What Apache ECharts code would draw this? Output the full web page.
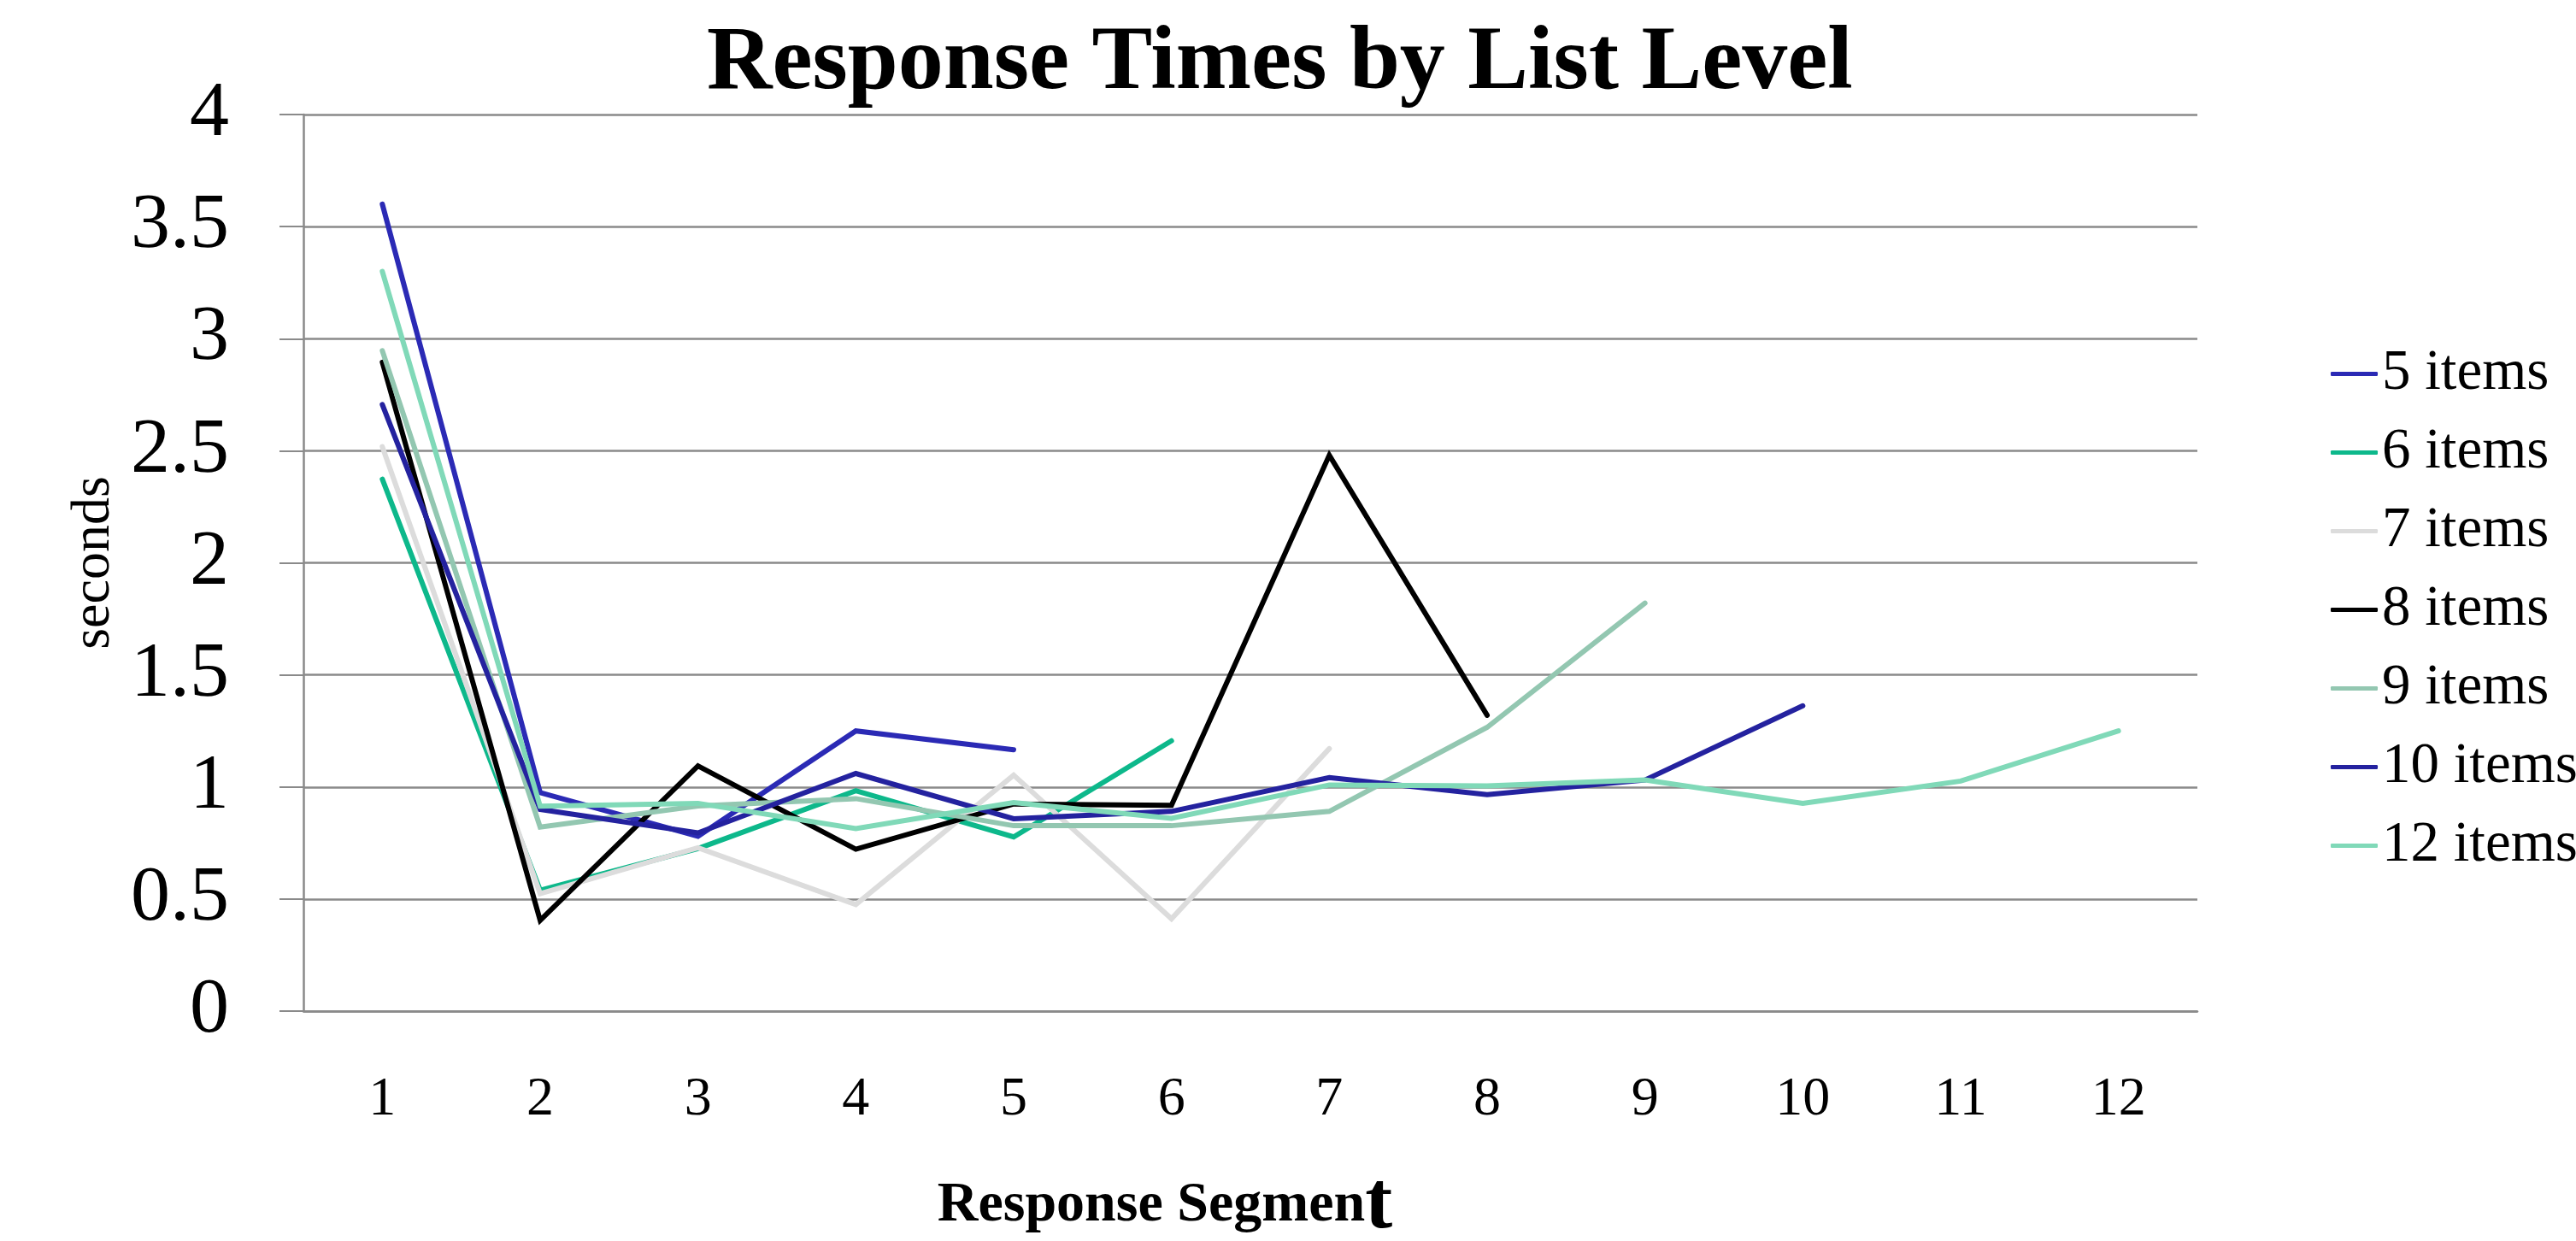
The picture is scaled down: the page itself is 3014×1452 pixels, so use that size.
<!DOCTYPE html>
<html>
<head>
<meta charset="utf-8">
<title>Response Times by List Level</title>
<script src="https://cdn.jsdelivr.net/npm/echarts@6/dist/echarts.min.js"></script>
<style>
  html, body { margin: 0; padding: 0; background: #fff; }
  #chart { width: 3014px; height: 1452px; }
</style>
</head>
<body>
<div id="chart"></div>
<script>
// Response segments along the x axis
const segments = ['1', '2', '3', '4', '5', '6', '7', '8', '9', '10', '11', '12'];

// Mean response time (seconds) per segment, one list per list length
const items5  = [3.60, 0.975, 0.78, 1.25, 1.166];
const items6  = [2.373, 0.539, 0.725, 0.983, 0.777, 1.206];
const items7  = [2.518, 0.524, 0.729, 0.475, 1.053, 0.412, 1.171];
const items8  = [2.895, 0.405, 1.094, 0.722, 0.924, 0.918, 2.48, 1.32];
const items9  = [2.946, 0.821, 0.915, 0.948, 0.827, 0.827, 0.891, 1.266, 1.82];
const items10 = [2.706, 0.90, 0.795, 1.06, 0.858, 0.891, 1.042, 0.966, 1.031, 1.362];
const items12 = [3.30, 0.914, 0.927, 0.814, 0.93, 0.86, 1.009, 1.005, 1.031, 0.927, 1.026, 1.25];

const seriesNames = ['5 items', '6 items', '7 items', '8 items', '9 items', '10 items', '12 items'];
const seriesData = [items5, items6, items7, items8, items9, items10, items12];
const seriesColors = ['#2b2ab5', '#0db88b', '#dcdcdc', '#000000', '#93c7b1', '#24229f', '#80d9b8'];

const FONT = '"Liberation Serif", "Times New Roman", serif';
const GRID_COLOR = '#8a8a8a';

const chart = echarts.init(document.getElementById('chart'), null, { renderer: 'canvas' });

chart.setOption({
  backgroundColor: '#ffffff',
  animation: false,
  title: {
    text: 'Response Times by List Level',
    left: 822,
    top: 18,
    textStyle: { fontFamily: FONT, fontWeight: 'bold', fontSize: 106, color: '#000' }
  },
  legend: {
    orient: 'vertical',
    left: 2722,
    top: 399,
    itemWidth: 55,
    itemHeight: 5,
    itemGap: 25,
    icon: 'roundRect',
    textStyle: { fontFamily: FONT, fontSize: 67, color: '#000' },
    data: seriesNames
  },
  grid: {
    left: 355, right: 443, top: 134, bottom: 269,
    containLabel: false,
    outerBoundsMode: 'none'
  },
  xAxis: {
    type: 'category',
    data: segments,
    boundaryGap: true,
    axisLine: { lineStyle: { color: GRID_COLOR, width: 2.5 } },
    axisTick: { length: 20, lineStyle: { color: GRID_COLOR, width: 2 } },
    axisLabel: { fontFamily: FONT, fontSize: 64, color: '#000', margin: 72 },
    splitLine: { show: false },
    name: 'Response Segmen{big|t}',
    nameLocation: 'middle',
    nameGap: 180,
    nameTextStyle: {
      fontFamily: FONT, fontWeight: 'bold', fontSize: 66, color: '#000',
      padding: [0, 200, 0, 0],
      rich: { big: { fontFamily: FONT, fontWeight: 'bold', fontSize: 96, color: '#000' } }
    }
  },
  yAxis: {
    type: 'value',
    min: 0,
    max: 4,
    interval: 0.5,
    axisLine: { show: true, lineStyle: { color: GRID_COLOR, width: 2.5 } },
    axisTick: { show: true, length: 28, lineStyle: { color: GRID_COLOR, width: 2 } },
    axisLabel: { fontFamily: FONT, fontSize: 92, color: '#000', margin: 87 },
    splitLine: { show: true, lineStyle: { color: GRID_COLOR, width: 2.5 } },
    name: 'seconds',
    nameLocation: 'middle',
    nameGap: 205,
    nameRotate: 90,
    nameTextStyle: { fontFamily: FONT, fontSize: 64, color: '#000' }
  },
  series: seriesNames.map((name, i) => ({
    name: name,
    type: 'line',
    data: seriesData[i],
    showSymbol: false,
    symbol: 'none',
    color: seriesColors[i],
    lineStyle: { width: 6, color: seriesColors[i], cap: 'round', join: 'miter' }
  }))
});
</script>
</body>
</html>
